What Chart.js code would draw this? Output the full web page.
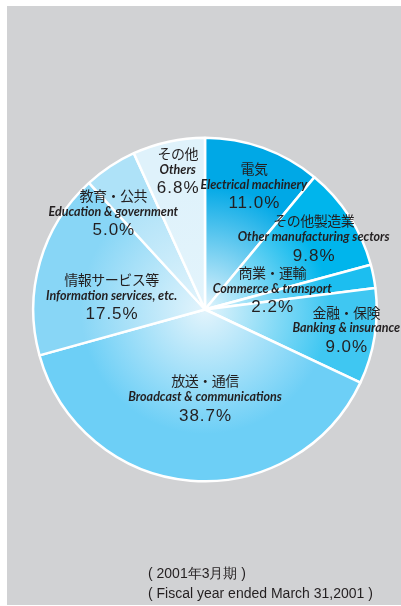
<!DOCTYPE html>
<html>
<head>
<meta charset="utf-8">
<script src="https://cdn.jsdelivr.net/npm/chart.js@4/dist/chart.umd.min.js"></script>
<style>
  html, body { margin: 0; padding: 0; background: #ffffff; }
  #wrap { position: relative; width: 401px; height: 606px; overflow: hidden; }
  #bg { position: absolute; left: 7px; top: 6px; width: 394px; height: 599px; background: #d1d2d4; }
  canvas { position: absolute; left: 0; top: 0; }
  .cap { position: absolute; left: 148px; font-family: "Liberation Sans", Arial, sans-serif; font-size: 14px; color: #231f20; white-space: pre; line-height: 1; }
</style>
</head>
<body>
<div id="wrap">
  <div id="bg"></div>
  <canvas id="c" width="401" height="606"></canvas>
  <div class="cap" id="cap1" style="top:566px">( 2001年3月期 )</div>
  <div class="cap" id="cap2" style="top:586px">( Fiscal year ended March 31,2001 )</div>
</div>
<script>
// ---- data ----
const categoriesJa = ["電気", "その他製造業", "商業・運輸", "金融・保険", "放送・通信", "情報サービス等", "教育・公共", "その他"];
const categoriesEn = ["Electrical machinery", "Other manufacturing sectors", "Commerce & transport", "Banking & insurance", "Broadcast & communications", "Information services, etc.", "Education & government", "Others"];
const shares = [11.0, 9.8, 2.2, 9.0, 38.7, 17.5, 5.0, 6.8];

// ---- styles (not data) ----
const sliceColors = ["#00a8e6", "#00b5ec", "#1cbef0", "#3fc7f2", "#6dcff6", "#88d6f6", "#aee2f8", "#dff2fb"];
const centerGlow = "#e3f4fc";
// label placement: [fraction of radius, angle shift in degrees from slice middle]
const labelPlacement = [[0.78, 1.6], [0.76, -0.9], [0.41, -6.2], [0.83, -1.4], [0.51, -4.9], [0.55, -7.5], [0.78, -9.7], [0.83, 1.2]];

const textColor = "#231f20";

const sliceLabels = {
  id: "sliceLabels",
  afterDatasetsDraw(chart) {
    const meta = chart.getDatasetMeta(0);
    const ctx = chart.ctx;
    ctx.save();
    ctx.fillStyle = textColor;
    ctx.textAlign = "center";
    ctx.textBaseline = "middle";
    meta.data.forEach((arc, i) => {
      const p = arc.getProps(["x", "y", "startAngle", "endAngle", "outerRadius"], true);
      const [frac, dDeg] = labelPlacement[i];
      const mid = (p.startAngle + p.endAngle) / 2 + dDeg * Math.PI / 180;
      const lx = p.x + Math.cos(mid) * p.outerRadius * frac;
      const ly = p.y + Math.sin(mid) * p.outerRadius * frac;
      ctx.letterSpacing = "-0.5px";
      ctx.font = '14px "Noto Sans CJK JP"';
      ctx.fillText(categoriesJa[i], lx, ly - 16);
      ctx.letterSpacing = "0px";
      ctx.font = 'italic bold 12.5px Lato';
      ctx.fillText(categoriesEn[i], lx, ly);
      ctx.letterSpacing = "1px";
      ctx.font = '17px "Liberation Sans"';
      ctx.fillText(shares[i].toFixed(1) + "%", lx + 0.5, ly + 19);
    });
    ctx.restore();
  }
};

new Chart(document.getElementById("c"), {
  type: "pie",
  data: {
    labels: categoriesJa,
    datasets: [{
      data: shares,
      borderColor: "#ffffff",
      borderWidth: 2.5,
      backgroundColor: (c) => {
        const chart = c.chart;
        const a = chart.chartArea;
        const col = sliceColors[c.dataIndex];
        if (!a) return col;
        const cx = (a.left + a.right) / 2, cy = (a.top + a.bottom) / 2;
        const r = Math.min(a.right - a.left, a.bottom - a.top) / 2;
        const g = chart.ctx.createRadialGradient(cx, cy, 0, cx, cy, r * 0.72);
        g.addColorStop(0, centerGlow);
        g.addColorStop(1, col);
        return g;
      }
    }]
  },
  options: {
    responsive: false,
    animation: false,
    devicePixelRatio: 1,
    layout: { padding: { left: 32, right: 23, top: 136.5, bottom: 123.5 } },
    plugins: { legend: { display: false }, tooltip: { enabled: false } }
  },
  plugins: [sliceLabels]
});
</script>
</body>
</html>
